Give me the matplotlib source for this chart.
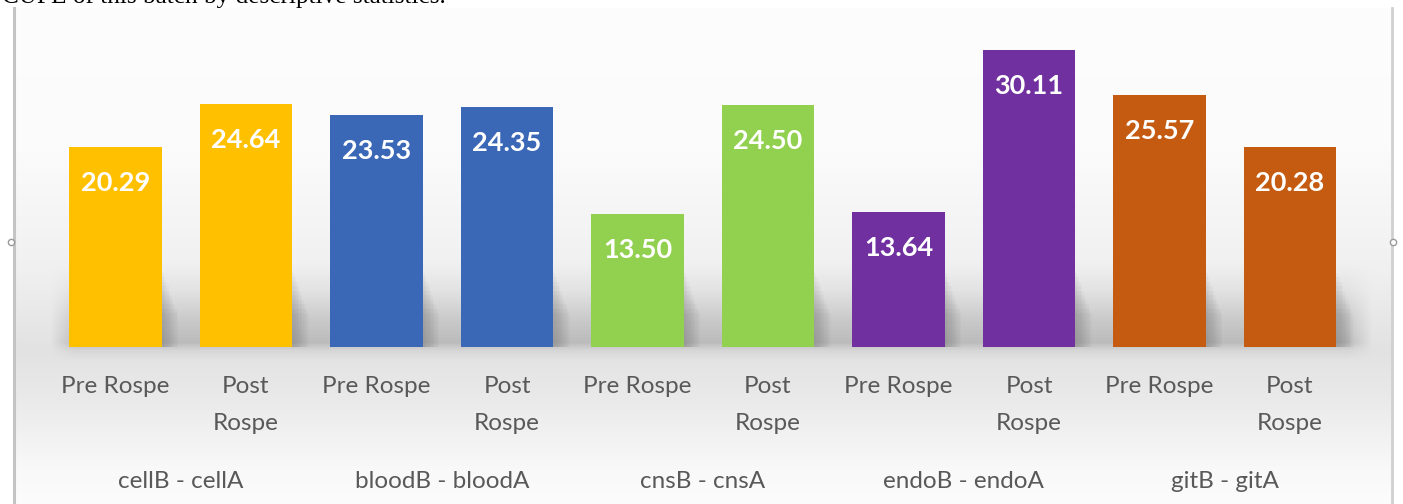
import numpy as np
import matplotlib
matplotlib.use("Agg")
import matplotlib.pyplot as plt
from matplotlib.lines import Line2D
from matplotlib.transforms import blended_transform_factory

# ---- data ----
groups = ["cellB - cellA", "bloodB - bloodA", "cnsB - cnsA", "endoB - endoA", "gitB - gitA"]
phases = ["Pre Rospe", "Post\nRospe"]
pre_values = [20.29, 23.53, 13.50, 13.64, 25.57]
post_values = [24.64, 24.35, 24.50, 30.11, 20.28]
group_colors = ["#FFC000", "#3B67B7", "#92D050", "#7030A0", "#C55A11"]
title_text = "CUPE of this batch by descriptive statistics."

W, H = 1403, 504
fig = plt.figure(figsize=(W / 100, H / 100), dpi=100)
fig.patch.set_facecolor("white")

# ---- background (chart-area gradient with floor shadow band) ----
yy = np.arange(H)[:, None].astype(float)
xx = np.arange(W)[None, :].astype(float)
base = np.interp(yy, [0, 150, 270, 350, 400, 470, 504], [253, 251, 240, 226, 234, 249, 252])
band = np.interp(yy, [262, 290, 320, 342, 350, 360], [0, 10, 30, 40, 12, 0])
hx = np.clip((xx - 50) / 25, 0, 1) * np.clip((1372 - xx) / 25, 0, 1)
gray = base - band * hx
mask = (xx >= 14) & (xx <= 1391) & (yy >= 8)
gray = np.where(mask, gray, 255.0)
img = np.repeat(np.clip(gray, 0, 255)[:, :, None], 3, axis=2) / 255.0
ax_bg = fig.add_axes([0, 0, 1, 1])
ax_bg.imshow(img, extent=[0, W, H, 0], aspect="auto", interpolation="bilinear")
ax_bg.set_xlim(0, W)
ax_bg.set_ylim(H, 0)
ax_bg.axis("off")

# frame lines and handles
ax_bg.add_line(Line2D([13.5, 13.5], [8, H], color="#c4c4c4", lw=2.2))
ax_bg.add_line(Line2D([1392, 1392], [8, H], color="#d0d0d0", lw=2.0))
ax_bg.plot([10.5], [241.5], marker="o", ms=4.5, mfc="white", mec="#9a9a9a", mew=1)
ax_bg.plot([1393], [241.5], marker="o", ms=4.5, mfc="white", mec="#9a9a9a", mew=1)

# caption text at the top (cut by the page edge, as in the source)
fig.text(2 / W, 1 - 3 / H, title_text, family="Liberation Serif", fontsize=18.2,
         color="black", ha="left", va="baseline")

# ---- main axes ----
left, right = 50.25, 1355.25
bottom_px, px_per_unit = 347, 9.87
ymax = 35
ax = fig.add_axes([left / W, (H - bottom_px) / H, (right - left) / W, ymax * px_per_unit / H])
ax.patch.set_alpha(0)
ax.set_xlim(-0.5, 9.5)
ax.set_ylim(0, ymax)
for s in ax.spines.values():
    s.set_visible(False)
ax.set_xticks([])
ax.set_yticks([])

values, colors, labels, pos = [], [], [], []
for gi in range(len(groups)):
    for pi, vals in enumerate([pre_values, post_values]):
        values.append(vals[gi])
        colors.append(group_colors[gi])
        labels.append(phases[pi])
        pos.append(gi * 2 + pi)

bw = 0.71
unit_px = (right - left) / 10.0
# soft shadows to the right of the bars (bottom part only)
for k in range(10):
    off = (2 + 1.6 * k) / unit_px
    ax.bar([p + off for p in pos], [min(v, 7.5 - 0.45 * k) for v in values], width=bw,
           color="#555555", alpha=0.035, zorder=1, linewidth=0)
ax.bar(pos, values, width=bw, color=colors, zorder=3, linewidth=0)

# value labels
for p, v in zip(pos, values):
    ax.annotate(f"{v:.2f}", xy=(p, v), xytext=(0, -36 * 0.72), textcoords="offset points",
                ha="center", va="center", color="white", fontweight="bold",
                family="Lato", fontsize=19.5, zorder=4)

# category labels
trans = blended_transform_factory(ax.transData, ax.transAxes)
lab_color = "#595959"
for p, lab in zip(pos, labels):
    for li, line in enumerate(lab.split("\n")):
        ax.annotate(line, xy=(p, 0), xycoords=trans,
                    xytext=(0, -(39.7 + 36.5 * li) * 0.72), textcoords="offset points",
                    ha="center", va="center", color=lab_color, family="Lato",
                    fontsize=17.5, annotation_clip=False)
for gi, g in enumerate(groups):
    ax.annotate(g, xy=(gi * 2 + 0.5, 0), xycoords=trans,
                xytext=(0, -134.7 * 0.72), textcoords="offset points",
                ha="center", va="center", color=lab_color, family="Lato",
                fontsize=17.5, annotation_clip=False)

fig.savefig("out.png", dpi=100)
